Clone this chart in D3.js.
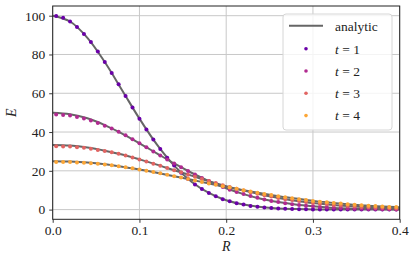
<!DOCTYPE html>
<html>
<head>
<meta charset="utf-8">
<script src="https://cdnjs.cloudflare.com/ajax/libs/d3/7.8.5/d3.min.js" type="text/javascript"></script>
<style>
	body { margin: 0; background: #fff; }
	svg text { font-family: "Liberation Serif", "DejaVu Serif", serif; fill: #222; }
</style>
</head>
<body>
<div id="chart"></div>
<script type="text/javascript">
// sample radii of the numerical solution (cell centres)
var radii = [0.004, 0.012, 0.020, 0.028, 0.036, 0.044, 0.052, 0.060, 0.068, 0.076,
	0.084, 0.092, 0.100, 0.108, 0.116, 0.124, 0.132, 0.140, 0.148, 0.156,
	0.164, 0.172, 0.180, 0.188, 0.196, 0.204, 0.212, 0.220, 0.228, 0.236,
	0.244, 0.252, 0.260, 0.268, 0.276, 0.284, 0.292, 0.300, 0.308, 0.316,
	0.324, 0.332, 0.340, 0.348, 0.356, 0.364, 0.372, 0.380, 0.388, 0.396];

var e_t1 = [99.9, 98.9, 97.0, 94.2, 90.6, 86.4, 81.5, 76.1, 70.4, 64.6,
	58.6, 52.7, 46.9, 41.3, 36.1, 31.2, 26.7, 22.7, 19.0, 15.8,
	13.0, 10.6, 8.6, 6.9, 5.4, 4.3, 3.3, 2.6, 1.9, 1.5,
	1.1, 0.8, 0.6, 0.4, 0.3, 0.2, 0.2, 0.1, 0.1, 0.1,
	0.1, 0.0, 0.0, 0.0, 0.0, 0.0, 0.0, 0.0, 0.0, 0.0];
var e_t2 = [49.1, 48.8, 48.5, 47.8, 47.0, 46.0, 44.7, 43.3, 41.8, 40.1,
	38.3, 36.3, 34.2, 32.1, 30.0, 27.9, 25.8, 23.8, 21.8, 19.9,
	18.1, 16.3, 14.7, 13.1, 11.7, 10.3, 9.1, 8.0, 7.0, 6.1,
	5.2, 4.5, 3.9, 3.3, 2.8, 2.4, 2.0, 1.7, 1.4, 1.1,
	0.9, 0.8, 0.6, 0.5, 0.4, 0.3, 0.3, 0.2, 0.2, 0.1];
var e_t3 = [32.7, 32.6, 32.5, 32.2, 31.9, 31.4, 30.8, 30.2, 29.6, 28.8,
	27.9, 26.9, 25.9, 24.8, 23.7, 22.6, 21.5, 20.3, 19.2, 18.0,
	16.9, 15.8, 14.7, 13.7, 12.6, 11.7, 10.7, 9.8, 9.0, 8.2,
	7.4, 6.7, 6.0, 5.4, 4.9, 4.4, 3.9, 3.4, 3.0, 2.7,
	2.3, 2.1, 1.8, 1.6, 1.4, 1.2, 1.0, 0.9, 0.7, 0.6];
var e_t4 = [24.6, 24.5, 24.5, 24.3, 24.2, 23.9, 23.6, 23.3, 22.9, 22.4,
	21.9, 21.3, 20.7, 20.0, 19.4, 18.7, 18.0, 17.2, 16.5, 15.8,
	15.0, 14.3, 13.5, 12.8, 12.1, 11.4, 10.7, 10.0, 9.3, 8.7,
	8.1, 7.5, 6.9, 6.4, 5.9, 5.4, 5.0, 4.5, 4.1, 3.8,
	3.4, 3.1, 2.8, 2.5, 2.3, 2.0, 1.8, 1.6, 1.4, 1.3];

// analytic curves, sampled every 0.02
var radiiAnalytic = [0.00, 0.02, 0.04, 0.06, 0.08, 0.10, 0.12, 0.14, 0.16, 0.18, 0.20,
	0.22, 0.24, 0.26, 0.28, 0.30, 0.32, 0.34, 0.36, 0.38, 0.40];
var a_t1 = [100, 97.0, 88.6, 76.1, 61.6, 46.9, 33.6, 22.7, 14.4, 8.6, 4.8,
	2.6, 1.3, 0.6, 0.3, 0.1, 0.0, 0.0, 0.0, 0.0, 0.0];
var a_t2 = [50.0, 49.2, 47.1, 43.6, 39.2, 34.2, 29.0, 23.8, 19.0, 14.7, 11.0,
	8.0, 5.6, 3.9, 2.6, 1.7, 1.0, 0.6, 0.4, 0.2, 0.1];
var a_t3 = [33.3, 33.0, 32.0, 30.4, 28.4, 25.9, 23.2, 20.3, 17.5, 14.7, 12.1,
	9.8, 7.8, 6.0, 4.6, 3.4, 2.5, 1.8, 1.3, 0.9, 0.6];
var a_t4 = [25.0, 24.8, 24.3, 23.4, 22.1, 20.7, 19.0, 17.2, 15.4, 13.5, 11.7,
	10.0, 8.4, 6.9, 5.7, 4.5, 3.6, 2.8, 2.1, 1.6, 1.2];

var times = [1, 2, 3, 4];
var seriesColors = ["#6a00a8", "#b12a90", "#e16462", "#fca636"];
var xTicks = [0.0, 0.1, 0.2, 0.3, 0.4];
var yTicks = [0, 20, 40, 60, 80, 100];

var numeric = [e_t1, e_t2, e_t3, e_t4];
var analytic = [a_t1, a_t2, a_t3, a_t4];

var size = { "width": 416, "height": 264 };
var plot = { "left": 52.7, "right": 399.7, "top": 6, "bottom": 219.3 };

var svg = d3.select("#chart")
	.append("svg")
		.attr("width", size.width)
		.attr("height", size.height)
		.attr("font-family", "Liberation Serif, serif");

var x = d3.scaleLinear().domain([0, 0.4]).range([plot.left, plot.right]);
var y = d3.scaleLinear().domain([-5, 105]).range([plot.bottom, plot.top]);

// grid
svg.append("g")
	.selectAll("line")
	.data(xTicks)
	.enter()
	.append("line")
		.attr("x1", function(d) { return x(d); })
		.attr("x2", function(d) { return x(d); })
		.attr("y1", plot.top)
		.attr("y2", plot.bottom)
		.attr("stroke", "#c8c8c8")
		.attr("stroke-width", 1);
svg.append("g")
	.selectAll("line")
	.data(yTicks)
	.enter()
	.append("line")
		.attr("x1", plot.left)
		.attr("x2", plot.right)
		.attr("y1", function(d) { return y(d); })
		.attr("y2", function(d) { return y(d); })
		.attr("stroke", "#c8c8c8")
		.attr("stroke-width", 1);

// analytic lines
var line = d3.line()
	.x(function(d) { return x(d[0]); })
	.y(function(d) { return y(d[1]); })
	.curve(d3.curveCatmullRom);
analytic.forEach(function(values) {
	svg.append("path")
		.datum(radiiAnalytic.map(function(r, i) { return [r, values[i]]; }))
		.attr("d", line)
		.attr("fill", "none")
		.attr("stroke", "#666")
		.attr("stroke-width", 2);
});

// numerical points
numeric.forEach(function(values, k) {
	svg.append("g")
		.selectAll("circle")
		.data(radii.map(function(r, i) { return [r, values[i]]; }))
		.enter()
		.append("circle")
			.attr("cx", function(d) { return x(d[0]); })
			.attr("cy", function(d) { return y(d[1]); })
			.attr("r", 2)
			.attr("fill", seriesColors[k]);
});

// axes
var xAxis = svg.append("g")
	.attr("transform", "translate(0," + plot.bottom + ")")
	.call(d3.axisBottom(x).tickValues(xTicks).tickFormat(d3.format(".1f")).tickSizeInner(3.5).tickSizeOuter(0).tickPadding(2.5));
var yAxis = svg.append("g")
	.attr("transform", "translate(" + plot.left + ",0)")
	.call(d3.axisLeft(y).tickValues(yTicks).tickSizeInner(3.5).tickSizeOuter(0).tickPadding(4));
[xAxis, yAxis].forEach(function(ax) {
	ax.attr("font-family", null).attr("font-size", null);
	ax.select(".domain").remove();
	ax.selectAll("line").attr("stroke", "#222").attr("stroke-width", 0.9);
	ax.selectAll("text")
		.style("font-size", "13.5px")
		.attr("fill", "#222");
});

// frame
svg.append("rect")
	.attr("x", plot.left)
	.attr("y", plot.top)
	.attr("width", plot.right - plot.left)
	.attr("height", plot.bottom - plot.top)
	.attr("fill", "none")
	.attr("stroke", "#222")
	.attr("stroke-width", 1);

// axis labels
svg.append("text")
	.attr("x", (plot.left + plot.right) / 2)
	.attr("y", 251)
	.attr("text-anchor", "middle")
	.style("font-size", "14px")
	.style("font-style", "italic")
	.text("R");
svg.append("text")
	.attr("transform", "translate(16," + ((plot.top + plot.bottom) / 2) + ") rotate(-90)")
	.attr("text-anchor", "middle")
	.style("font-size", "14px")
	.style("font-style", "italic")
	.text("E");

// legend
var legend = svg.append("g").attr("transform", "translate(283,14)");
legend.append("rect")
	.attr("width", 109)
	.attr("height", 116)
	.attr("rx", 3)
	.attr("fill", "#fff")
	.attr("fill-opacity", 0.8)
	.attr("stroke", "#d6d6d6")
	.attr("stroke-width", 1);
legend.append("line")
	.attr("x1", 6).attr("x2", 40)
	.attr("y1", 11.7).attr("y2", 11.7)
	.attr("stroke", "#666")
	.attr("stroke-width", 2);
legend.append("text")
	.attr("x", 52)
	.attr("y", 16.5)
	.style("font-size", "13.5px")
	.text("analytic");
var entries = legend.selectAll(".entry")
	.data(times)
	.enter()
	.append("g")
		.attr("class", "entry")
		.attr("transform", function(d, i) { return "translate(0," + (34.7 + i * 22.3) + ")"; });
entries.append("circle")
	.attr("cx", 23)
	.attr("cy", 0)
	.attr("r", 1.8)
	.attr("fill", function(d, i) { return seriesColors[i]; });
var labels = entries.append("text")
	.attr("x", 52)
	.attr("y", 4.8)
	.style("font-size", "13.5px");
labels.append("tspan").style("font-style", "italic").text("t");
labels.append("tspan").text(function(d) { return " = " + d; });
</script>
</body>
</html>
